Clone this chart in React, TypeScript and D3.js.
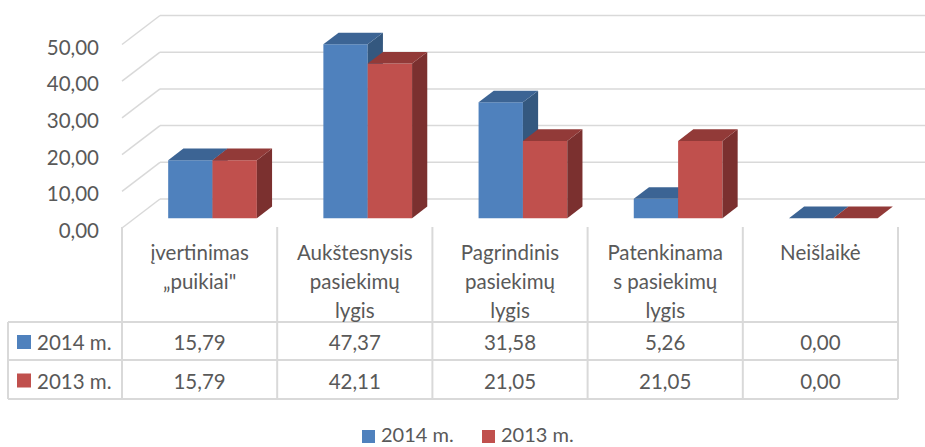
import React from "react";
import * as d3 from "d3";

// chart data
const categoryLines: string[][] = [
  ["įvertinimas", "„puikiai\""],
  ["Aukštesnysis", "pasiekimų", "lygis"],
  ["Pagrindinis", "pasiekimų", "lygis"],
  ["Patenkinama", "s pasiekimų", "lygis"],
  ["Neišlaikė"],
];
const seriesNames = ["2014 m.", "2013 m."];
const values2014 = [15.79, 47.37, 31.58, 5.26, 0.0];
const values2013 = [15.79, 42.11, 21.05, 21.05, 0.0];
const yTicks = [0, 10, 20, 30, 40, 50];

const W = 925;
const H = 447;
const FONT = "Lato, 'Open Sans', sans-serif";
const TEXT = "#595959";
const GRID = "#d9d9d9";

// oblique depth vector and bar depth range (0 = front, 1 = back wall)
const DX = 38;
const DY = -29;
const Z0 = 0.34;
const Z1 = 0.74;

const colors = [
  { front: "#4f81bd", top: "#3c6494", side: "#34587f" },
  { front: "#c0504d", top: "#923a38", side: "#7b302f" },
];

const fmt = (v: number) => d3.format(".2f")(v).replace(".", ",");

export default function App() {
  const keys = categoryLines.map((_, i) => String(i));
  const x = d3.scaleBand().domain(keys).range([122, 898]).padding(0);
  const xs = d3.scaleBand().domain(seriesNames).range([0, x.bandwidth()]).paddingInner(0).paddingOuter(0.75);
  const y = d3.scaleLinear().domain([0, 50]).range([228, 44.5]);

  const P = (px: number, v: number, z: number) => [px + DX * z, y(v) + DY * z];
  const pts = (arr: number[][]) => arr.map((p) => p.join(",")).join(" ");

  const series = [values2014, values2013];
  const tableTop = 227;
  const rowTops = [322, 360, 399];
  const colEdges = [...keys.map((k) => x(k) as number), 898];

  return (
    <svg width={W} height={H} style={{ position: "absolute", left: 0, top: 0, background: "#fff" }} fontFamily={FONT}>
      {/* walls gridlines */}
      <g stroke={GRID} strokeWidth={1.5} fill="none">
        {yTicks.map((t) => (
          <g key={t}>
            <line x1={122} y1={y(t)} x2={122 + DX} y2={y(t) + DY} />
            <line x1={122 + DX} y1={y(t) + DY} x2={898 + DX} y2={y(t) + DY} />
          </g>
        ))}
      </g>
      {/* y labels */}
      <g fill={TEXT} fontSize={20.5} textAnchor="end">
        {yTicks.map((t) => (
          <text key={t} x={99} y={y(t) + 2} dominantBaseline="central">
            {fmt(t)}
          </text>
        ))}
      </g>
      {/* bars */}
      <g>
        {keys.map((k, ci) =>
          seriesNames.map((s, si) => {
            const v = series[si][ci];
            const x0 = (x(k) as number) + (xs(s) as number);
            const x1 = x0 + xs.bandwidth();
            const c = colors[si];
            return (
              <g key={k + s}>
                {v > 0 && (
                  <polygon points={pts([P(x0, 0, Z0), P(x1, 0, Z0), P(x1, v, Z0), P(x0, v, Z0)])} fill={c.front} />
                )}
                {v > 0 && (
                  <polygon points={pts([P(x1, 0, Z0), P(x1, 0, Z1), P(x1, v, Z1), P(x1, v, Z0)])} fill={c.side} />
                )}
                <polygon points={pts([P(x0, v, Z0), P(x1, v, Z0), P(x1, v, Z1), P(x0, v, Z1)])} fill={c.top} />
              </g>
            );
          })
        )}
      </g>
      {/* data table */}
      <g stroke={GRID} strokeWidth={2}>
        {colEdges.map((cx, i) => (
          <line key={i} x1={cx} y1={tableTop} x2={cx} y2={rowTops[2]} />
        ))}
        <line x1={8} y1={rowTops[0]} x2={8} y2={rowTops[2]} />
        {rowTops.map((ry) => (
          <line key={ry} x1={8} y1={ry} x2={898} y2={ry} />
        ))}
      </g>
      <g fill={TEXT} fontSize={20.5} textAnchor="middle">
        {categoryLines.map((lines, ci) =>
          lines.map((ln, li) => (
            <text
              key={ci + "-" + li}
              x={(x(String(ci)) as number) + x.bandwidth() / 2}
              y={252 + li * 29}
              dominantBaseline="central"
            >
              {ln}
            </text>
          ))
        )}
        {series.map((vals, si) =>
          vals.map((v, ci) => (
            <text
              key={si + "-" + ci}
              x={(x(String(ci)) as number) + x.bandwidth() / 2}
              y={(rowTops[si] + rowTops[si + 1]) / 2 + 1}
              dominantBaseline="central"
            >
              {fmt(v)}
            </text>
          ))
        )}
      </g>
      <g fill={TEXT} fontSize={20.5}>
        {seriesNames.map((s, si) => {
          const cy = (rowTops[si] + rowTops[si + 1]) / 2 + 1;
          return (
            <g key={s}>
              <rect x={17} y={cy - 7} width={14} height={14} fill={colors[si].front} />
              <text x={37} y={cy} dominantBaseline="central">
                {s}
              </text>
            </g>
          );
        })}
      </g>
      {/* legend */}
      <g fill={TEXT} fontSize={20}>
        {seriesNames.map((s, si) => {
          const lx = [362, 482][si];
          return (
            <g key={s}>
              <rect x={lx} y={430} width={13} height={13} fill={colors[si].front} />
              <text x={lx + 19} y={434} dominantBaseline="central">
                {s}
              </text>
            </g>
          );
        })}
      </g>
    </svg>
  );
}
